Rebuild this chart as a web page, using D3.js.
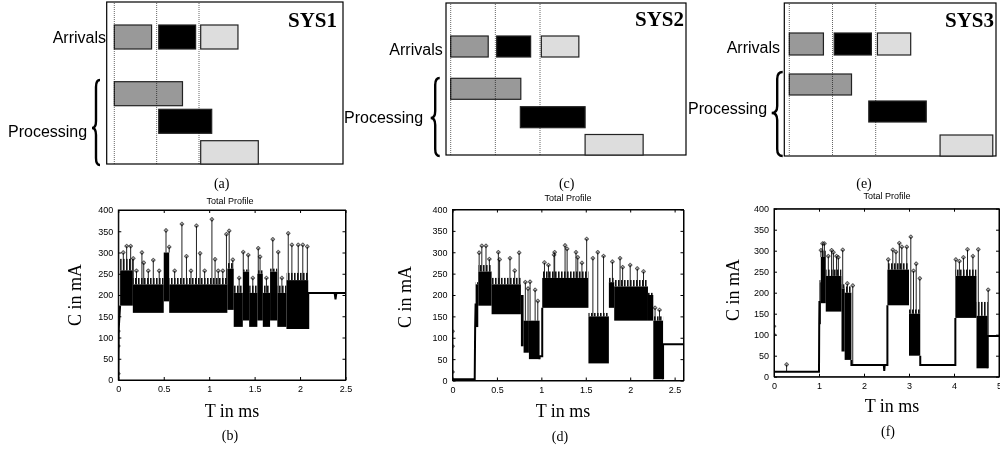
<!DOCTYPE html>
<html>
<head>
<meta charset="utf-8">
<script src="https://cdn.jsdelivr.net/npm/d3@7"></script>
<style>
  body { margin: 0; background: #fff; }
  svg { display: block; }
</style>
</head>
<body>
<svg id="fig" width="1000" height="450"></svg>
<script>
/* ============================================================
   Data: schedule diagrams (time in arrival periods)
   ============================================================ */
const systems = ['SYS1', 'SYS2', 'SYS3'];
const captionsTop = ['(a)', '(c)', '(e)'];
const periodTicks = [0, 1, 2];

// [start, end] per job (job order: gray, black, light)
const arrivals1 = [[0, 0.88], [1.05, 1.92], [2.04, 2.92]];
const processing1 = [[0, 1.61], [1.05, 2.30], [2.04, 3.40]];
const arrivals2 = [[0, 0.84], [1.03, 1.79], [2.03, 2.87]];
const processing2 = [[0, 1.57], [1.56, 3.01], [3.01, 4.31]];
const arrivals3 = [[0, 0.79], [1.04, 1.90], [2.04, 2.81]];
const processing3 = [[0, 1.44], [1.84, 3.17], [3.49, 4.71]];

/* ============================================================
   Data: current profiles (t in ms, C in mA)
   ============================================================ */
const captionsBottom = ['(b)', '(d)', '(f)'];
const yTicks = [0, 50, 100, 150, 200, 250, 300, 350, 400];
const xTicksB = [0, 0.5, 1, 1.5, 2, 2.5];
const xTicksD = [0, 0.5, 1, 1.5, 2, 2.5];
const xTicksF = [0, 1, 2, 3, 4, 5];

// single-valued stretches of the trace
const traceB = [
    [[0, 0], [0.004, 118], [0.01, 140], [0.02, 175]],
    [[2.09, 120], [2.09, 205], [2.38, 205], [2.39, 190], [2.40, 205], [2.5, 205]]
];
// dense stretches: [t0, t1, low, high, comb top]
const bandsB = [
    [0.02, 0.16, 175, 258, 285],
    [0.16, 0.50, 158, 225, 240],
    [0.50, 0.56, 185, 300, 300],
    [0.56, 1.20, 158, 225, 240],
    [1.20, 1.27, 165, 262, 275],
    [1.27, 1.37, 125, 205, 222],
    [1.37, 1.44, 140, 255, 260],
    [1.44, 1.53, 125, 205, 222],
    [1.53, 1.59, 140, 250, 258],
    [1.59, 1.67, 125, 205, 222],
    [1.67, 1.75, 140, 255, 262],
    [1.75, 1.85, 125, 205, 222],
    [1.85, 2.09, 120, 235, 252]
];
// isolated peaks: [t, C]
const spikesB = [
    [0, 15], [0, 80], [0, 115],
    [0.055, 300], [0.092, 315], [0.136, 315], [0.165, 286], [0.20, 257], [0.26, 300],
    [0.28, 276], [0.33, 257], [0.385, 282], [0.45, 257], [0.525, 352], [0.56, 313],
    [0.62, 257], [0.70, 367], [0.75, 291], [0.80, 257], [0.86, 363], [0.90, 298],
    [0.95, 257], [1.03, 378], [1.065, 284], [1.10, 257], [1.15, 257], [1.19, 343],
    [1.22, 351], [1.26, 283], [1.33, 240], [1.375, 301], [1.43, 294], [1.48, 240],
    [1.54, 310], [1.56, 290], [1.63, 240], [1.70, 331], [1.76, 301], [1.80, 240],
    [1.87, 345], [1.91, 318], [1.98, 318], [2.03, 318], [2.08, 314]
];

const traceD = [
    [[0, 3], [0.25, 3], [0.255, 125], [0.26, 180]],
    [[0.98, 50], [0.98, 57], [1.01, 57], [1.01, 170]],
    [[2.37, 3], [2.37, 85], [2.6, 85]]
];
const bandsD = [
    [0.26, 0.29, 125, 225, 230],
    [0.29, 0.44, 175, 255, 270],
    [0.44, 0.77, 155, 225, 240],
    [0.77, 0.80, 80, 200, 200],
    [0.80, 0.86, 65, 140, 140],
    [0.86, 0.98, 50, 140, 140],
    [1.01, 1.53, 170, 240, 255],
    [1.53, 1.76, 40, 150, 158],
    [1.76, 1.82, 170, 230, 240],
    [1.82, 2.20, 140, 220, 235],
    [2.20, 2.26, 140, 200, 205],
    [2.26, 2.37, 3, 140, 150]
];
const spikesD = [
    [0, 20], [0, 80], [0, 115],
    [0.30, 299], [0.33, 315], [0.377, 315], [0.415, 284], [0.516, 300], [0.53, 283],
    [0.647, 286], [0.70, 257], [0.75, 299], [0.82, 230], [0.85, 215], [0.873, 231],
    [0.93, 212], [0.96, 186], [1.035, 276], [1.08, 270], [1.143, 294], [1.15, 300],
    [1.267, 316], [1.29, 308], [1.39, 300], [1.41, 288], [1.457, 275], [1.51, 331],
    [1.58, 286], [1.635, 300], [1.70, 291], [1.80, 278], [1.886, 286], [1.915, 265],
    [2.00, 270], [2.08, 262], [2.15, 255], [2.28, 170], [2.33, 165]
];

const traceF = [
    [[0, 12], [1.0, 12], [1.005, 125], [1.01, 180]],
    [[1.72, 40], [1.72, 28], [2.44, 28], [2.45, 14], [2.46, 28], [2.52, 28], [2.52, 170]],
    [[3.25, 50], [3.25, 28], [4.03, 28], [4.03, 140]],
    [[4.75, 20], [4.75, 97], [5, 97]]
];
const bandsF = [
    [1.01, 1.04, 125, 225, 230],
    [1.04, 1.15, 175, 285, 300],
    [1.15, 1.50, 155, 240, 255],
    [1.50, 1.57, 60, 210, 220],
    [1.57, 1.72, 40, 200, 215],
    [2.52, 3.00, 170, 255, 270],
    [3.00, 3.25, 50, 150, 160],
    [4.03, 4.50, 140, 240, 255],
    [4.50, 4.75, 20, 145, 178]
];
const spikesF = [
    [0, 100], [0, 120], [0.28, 29],
    [1.044, 301], [1.08, 317], [1.12, 317], [1.207, 287], [1.28, 301], [1.32, 296],
    [1.39, 287], [1.43, 284], [1.527, 302], [1.63, 222], [1.75, 217],
    [2.54, 279], [2.64, 302], [2.71, 297], [2.785, 318], [2.84, 309], [2.95, 309],
    [3.04, 333], [3.10, 252], [3.16, 269], [3.24, 234],
    [4.04, 279], [4.12, 275], [4.21, 284], [4.30, 303], [4.42, 287], [4.54, 303], [4.76, 207]
];

/* ============================================================
   Layout + styles
   ============================================================ */
const SERIF = "'Liberation Serif', 'Times New Roman', serif";
const SANS = "'Liberation Sans', Arial, sans-serif";
const jobFill = ['#999999', '#000000', '#dddddd'];

const schedLayout = [
    {left: 106.7, right: 343, top: 2, bottom: 164, t0: 114.3, unit: 42.35, arr: [25, 49],
     proc: [[81.7, 105.7], [109.3, 133.3], [140.7, 164]],
     sys: [337, 27], arrLbl: [106, 43], procLbl: [8, 137],
     brace: {x: 92, w: 8, y0: 80, y1: 165, tip: 128}, cap: [221.7, 188]},
    {left: 446, right: 686, top: 3, bottom: 155, t0: 450.7, unit: 44.65, arr: [36, 57],
     proc: [[78.3, 99.3], [106.7, 127.7], [134.5, 155]],
     sys: [684, 26], arrLbl: [442.7, 55], procLbl: [344, 123],
     brace: {x: 430.7, w: 9, y0: 78, y1: 156, tip: 118}, cap: [566.7, 188]},
    {left: 784.3, right: 996, top: 3, bottom: 156, t0: 789.3, unit: 43.2, arr: [33, 55],
     proc: [[74, 95], [101, 122], [135, 156]],
     sys: [994, 27], arrLbl: [780, 53], procLbl: [688, 114],
     brace: {x: 771.7, w: 11, y0: 72, y1: 156, tip: 113}, cap: [864, 188]}
];

const profLayout = [
    {left: 118.3, right: 345.5, top: 210, bottom: 380, tmax: 2.5,
     title: [230, 204], ylab: [75, 295], xlab: [232, 417], cap: [230, 440]},
    {left: 452.5, right: 683.5, top: 209.5, bottom: 380.5, tmax: 2.6,
     title: [568, 201], ylab: [405, 297], xlab: [563, 417], cap: [560, 441]},
    {left: 774, right: 999, top: 208.7, bottom: 376.7, tmax: 5,
     title: [887, 199], ylab: [733, 290], xlab: [892, 412], cap: [888, 436]}
];

const svg = d3.select('#fig');
const defs = svg.append('defs');

// comb pattern for the fast-toggling upper edge of dense stretches
defs.append('pattern')
    .attr('id', 'comb').attr('patternUnits', 'userSpaceOnUse')
    .attr('width', 3).attr('height', 4)
    .append('rect').attr('width', 1.6).attr('height', 4).attr('fill', '#111');

// --- Curly brace pointing left ---
function bracePath(b) {
    const xm = b.x + b.w / 2, r = 7;
    return `M${b.x + b.w},${b.y0} Q${xm},${b.y0} ${xm},${b.y0 + r}` +
        ` L${xm},${b.tip - r} Q${xm},${b.tip} ${b.x},${b.tip}` +
        ` Q${xm},${b.tip} ${xm},${b.tip + r}` +
        ` L${xm},${b.y1 - r} Q${xm},${b.y1} ${b.x + b.w},${b.y1}`;
}

// --- Schedule diagram (top row) ---
function drawSchedule(L, name, caption, arrivals, processing) {
    const x = d3.scaleLinear().domain([0, 1]).range([L.t0, L.t0 + L.unit]);
    const g = svg.append('g');

    g.append('rect')
        .attr('x', L.left).attr('y', L.top)
        .attr('width', L.right - L.left).attr('height', L.bottom - L.top)
        .attr('fill', '#fff').attr('stroke', '#000').attr('stroke-width', 1.2);

    g.selectAll('rect.arr').data(arrivals).join('rect')
        .attr('class', 'arr')
        .attr('x', d => x(d[0])).attr('width', d => x(d[1]) - x(d[0]))
        .attr('y', L.arr[0]).attr('height', L.arr[1] - L.arr[0])
        .attr('fill', (d, i) => jobFill[i])
        .attr('stroke', '#222').attr('stroke-width', 1.2);

    g.selectAll('rect.proc').data(processing).join('rect')
        .attr('class', 'proc')
        .attr('x', d => x(d[0])).attr('width', d => x(d[1]) - x(d[0]))
        .attr('y', (d, i) => L.proc[i][0])
        .attr('height', (d, i) => L.proc[i][1] - L.proc[i][0])
        .attr('fill', (d, i) => jobFill[i])
        .attr('stroke', '#222').attr('stroke-width', 1.2);

    // arrival instants (dotted), multiplied so they vanish over black
    g.selectAll('line.per').data(periodTicks).join('line')
        .attr('class', 'per')
        .attr('x1', d => x(d)).attr('x2', d => x(d))
        .attr('y1', L.top + 1).attr('y2', L.bottom)
        .attr('stroke', '#666').attr('stroke-width', 1)
        .attr('stroke-dasharray', '1,1')
        .style('mix-blend-mode', 'multiply');

    g.append('text')
        .attr('x', L.sys[0]).attr('y', L.sys[1])
        .attr('text-anchor', 'end')
        .style('font-family', SERIF).style('font-size', '21px').style('font-weight', 'bold')
        .text(name);

    g.append('text')
        .attr('x', L.arrLbl[0]).attr('y', L.arrLbl[1])
        .attr('text-anchor', 'end')
        .style('font-family', SANS).style('font-size', '16px')
        .text('Arrivals');

    g.append('text')
        .attr('x', L.procLbl[0]).attr('y', L.procLbl[1])
        .style('font-family', SANS).style('font-size', '16px')
        .text('Processing');

    g.append('path')
        .attr('d', bracePath(L.brace))
        .attr('fill', 'none').attr('stroke', '#000').attr('stroke-width', 2.4);

    g.append('text')
        .attr('x', L.cap[0]).attr('y', L.cap[1])
        .attr('text-anchor', 'middle')
        .style('font-family', SERIF).style('font-size', '14px')
        .text(caption);
}

// --- Current profile (bottom row) ---
function drawProfile(L, idx, caption, xTicks, trace, bands, spikes) {
    const x = d3.scaleLinear().domain([0, L.tmax]).range([L.left, L.right]);
    const y = d3.scaleLinear().domain([0, 400]).range([L.bottom, L.top]);
    const g = svg.append('g');

    const clipId = 'clip' + idx;
    defs.append('clipPath').attr('id', clipId)
        .append('rect')
        .attr('x', L.left).attr('y', L.top)
        .attr('width', L.right - L.left).attr('height', L.bottom - L.top);
    const plot = g.append('g').attr('clip-path', `url(#${clipId})`);

    // level a spike rises from: top of its dense stretch, else the trace level
    const baseOf = t => {
        const b = bands.find(b => t >= b[0] && t <= b[1]);
        if (b) return b[3];
        for (const seg of trace) {
            for (let k = 0; k < seg.length - 1; k++) {
                if (t >= seg[k][0] && t <= seg[k + 1][0]) return seg[k][1];
            }
        }
        return 0;
    };

    plot.selectAll('line.spike').data(spikes).join('line')
        .attr('class', 'spike')
        .attr('x1', d => x(d[0])).attr('x2', d => x(d[0]))
        .attr('y1', d => y(baseOf(d[0]))).attr('y2', d => y(d[1]))
        .attr('stroke', '#222').attr('stroke-width', 1);

    plot.selectAll('rect.comb').data(bands).join('rect')
        .attr('class', 'comb')
        .attr('x', d => x(d[0])).attr('width', d => x(d[1]) - x(d[0]))
        .attr('y', d => y(d[4])).attr('height', d => y(d[3]) - y(d[4]))
        .attr('fill', 'url(#comb)');

    plot.selectAll('rect.band').data(bands).join('rect')
        .attr('class', 'band')
        .attr('x', d => x(d[0])).attr('width', d => x(d[1]) - x(d[0]))
        .attr('y', d => y(d[3])).attr('height', d => y(d[2]) - y(d[3]))
        .attr('fill', '#000');

    const line = d3.line().x(d => x(d[0])).y(d => y(d[1]));
    plot.selectAll('path.trace').data(trace).join('path')
        .attr('class', 'trace')
        .attr('d', line)
        .attr('fill', 'none').attr('stroke', '#000').attr('stroke-width', 2);

    plot.selectAll('path.mk').data(spikes).join('path')
        .attr('class', 'mk')
        .attr('transform', d => `translate(${x(d[0])},${y(d[1])})`)
        .attr('d', d3.symbol(d3.symbolCross, 7))
        .attr('fill', 'none').attr('stroke', '#000').attr('stroke-width', 0.6);

    // axes: gnuplot-like inward ticks, mirrored on top and right
    const styleTicks = sel => sel.selectAll('text')
        .attr('font-family', SANS).attr('font-size', 9).attr('fill', '#000');

    g.append('g').attr('transform', `translate(0,${L.bottom})`)
        .call(d3.axisBottom(x).tickValues(xTicks).tickSize(-3).tickSizeOuter(0)
            .tickPadding(6).tickFormat(d3.format('')))
        .call(styleTicks);
    g.append('g').attr('transform', `translate(0,${L.top})`)
        .call(d3.axisTop(x).tickValues(xTicks).tickSize(-3).tickSizeOuter(0).tickFormat(''));
    g.append('g').attr('transform', `translate(${L.left},0)`)
        .call(d3.axisLeft(y).tickValues(yTicks).tickSize(-3).tickSizeOuter(0).tickPadding(5))
        .call(styleTicks);
    g.append('g').attr('transform', `translate(${L.right},0)`)
        .call(d3.axisRight(y).tickValues(yTicks).tickSize(-3).tickSizeOuter(0).tickFormat(''));

    g.append('rect')
        .attr('x', L.left).attr('y', L.top)
        .attr('width', L.right - L.left).attr('height', L.bottom - L.top)
        .attr('fill', 'none').attr('stroke', '#000').attr('stroke-width', 1);

    g.append('text')
        .attr('x', L.title[0]).attr('y', L.title[1])
        .attr('text-anchor', 'middle')
        .style('font-family', SANS).style('font-size', '9px')
        .text('Total Profile');

    g.append('text')
        .attr('transform', `translate(${L.ylab[0]},${L.ylab[1]}) rotate(-90)`)
        .attr('text-anchor', 'middle').attr('dy', '0.35em')
        .style('font-family', SERIF).style('font-size', '18px')
        .text('C in mA');

    g.append('text')
        .attr('x', L.xlab[0]).attr('y', L.xlab[1])
        .attr('text-anchor', 'middle')
        .style('font-family', SERIF).style('font-size', '18px')
        .text('T in ms');

    g.append('text')
        .attr('x', L.cap[0]).attr('y', L.cap[1])
        .attr('text-anchor', 'middle')
        .style('font-family', SERIF).style('font-size', '14px')
        .text(caption);
}

drawSchedule(schedLayout[0], systems[0], captionsTop[0], arrivals1, processing1);
drawSchedule(schedLayout[1], systems[1], captionsTop[1], arrivals2, processing2);
drawSchedule(schedLayout[2], systems[2], captionsTop[2], arrivals3, processing3);

drawProfile(profLayout[0], 0, captionsBottom[0], xTicksB, traceB, bandsB, spikesB);
drawProfile(profLayout[1], 1, captionsBottom[1], xTicksD, traceD, bandsD, spikesD);
drawProfile(profLayout[2], 2, captionsBottom[2], xTicksF, traceF, bandsF, spikesF);
</script>
</body>
</html>
